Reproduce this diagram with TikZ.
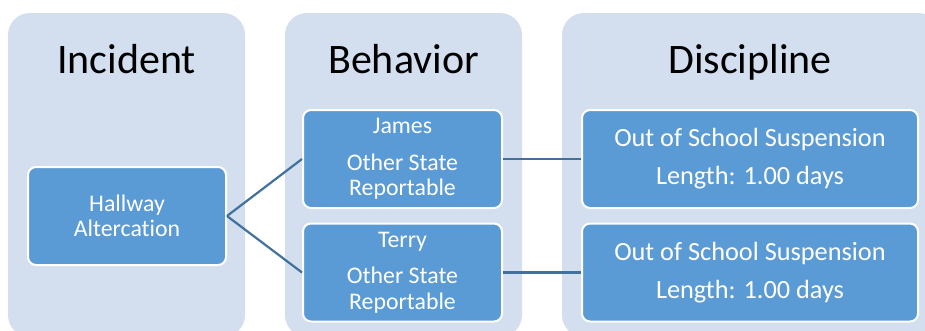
\documentclass[tikz,border=0pt]{standalone}
\usepackage{fontspec}
\setmainfont[Ligatures={NoCommon}]{Carlito}
\definecolor{colbg}{RGB}{211,222,239}
\definecolor{boxfill}{RGB}{91,155,213}
\definecolor{linec}{RGB}{65,113,156}
\tikzset{
  colframe/.style={fill=colbg, rounded corners=22pt, inner sep=0pt, draw=none},
  coltitle/.style={anchor=base, text=black, inner sep=0pt, font=\fontsize{42}{50}\selectfont},
  box/.style={draw=white, line width=2pt, fill=boxfill, rounded corners=8pt, text=white,
    align=center, inner sep=0pt, minimum height=98pt, font=\fontsize{23.8}{25.5}\selectfont},
  dbox/.style={box, font=\fontsize{26.3}{28}\selectfont},
  conn/.style={draw=linec, line width=2.2pt}
}
\begin{document}
\begin{tikzpicture}[x=1pt,y=-1pt]
\useasboundingbox (0,0) rectangle (925,330);
\clip (0,0) rectangle (925,330);
\node[colframe, minimum width=237pt, minimum height=324pt] (col1) at (126.5,175) {};
\node[colframe, minimum width=237pt, minimum height=324pt] (col2) at (403.5,175) {};
\node[colframe, minimum width=378pt, minimum height=324pt] (col3) at (751,175) {};
\node[coltitle] (t1) at (126.5,73) {Incident};
\node[coltitle] (t2) at (403.5,73) {Behavior};
\node[coltitle] (t3) at (750,73) {Discipline};
\node[box, minimum width=198pt] (hall) at (127,216) {Hallway\\Altercation};
\node[box, minimum width=199pt] (james) at (402.5,159) {James\\[11pt]Other State\\Reportable};
\node[box, minimum width=199pt] (terry) at (402.5,272.5) {Terry\\[11pt]Other State\\Reportable};
\node[dbox, minimum width=336pt] (d1) at (750,159) {Out of School Suspension\\[10pt]Length: 1.00 days};
\node[dbox, minimum width=336pt] (d2) at (750,272.5) {Out of School Suspension\\[10pt]Length: 1.00 days};
\draw[conn] (hall.east) -- (james.west);
\draw[conn] (hall.east) -- (terry.west);
\draw[conn] (james.east) -- (d1.west);
\draw[conn] (terry.east) -- (d2.west);
\end{tikzpicture}
\end{document}
